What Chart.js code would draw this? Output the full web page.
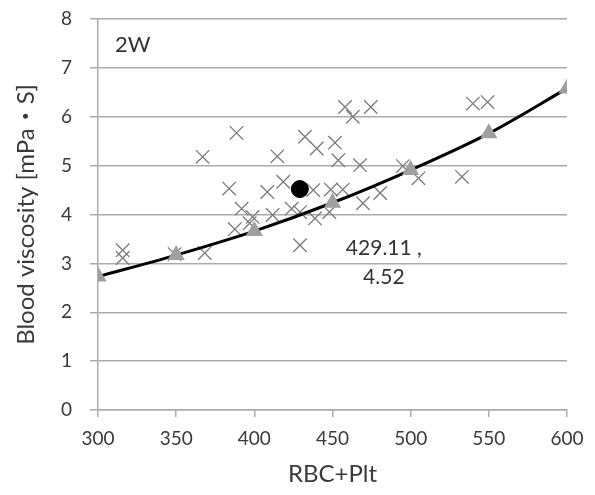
<!DOCTYPE html>
<html lang="en"><head>
<meta charset="utf-8">
<title>Blood viscosity 2W</title>
<style type="text/css">
body    { margin:0; background-color:#ffffff; }
#box    { width:595px; height:495px; }
</style>
<script src="https://cdn.jsdelivr.net/npm/chart.js@4"></script>
<script>

// measured samples (RBC+Plt, viscosity)
var sampleX=[315.8,315.8,349,368.3,387.5,397,388.6,366.9,432.4,439.9,414.7,383.9,408.3,418.5,437.7,391.9,398.9,411.7,423.9,429.2,429.2,438.8,
  458,463,474.5,539.8,549.2,451.6,453.7,467.6,495,505,532.8,448.9,456.6,480.5,469.5,448];
var sampleY=[3.27,3.11,3.19,3.21,3.70,3.82,5.67,5.18,5.59,5.35,5.19,4.53,4.46,4.67,4.50,4.12,3.95,3.99,4.12,4.05,3.37,3.92,
  6.20,6.00,6.20,6.27,6.30,5.47,5.11,5.01,4.99,4.74,4.77,4.51,4.51,4.44,4.23,4.05];
// fitted curve
var fitX=[300,350,400,450,500,550,600];
var fitY=[2.73,3.17,3.66,4.24,4.91,5.66,6.58];
// mean point
var meanX=[429.11];
var meanY=[4.52];
var xTicks=[300,350,400,450,500,550,600];

function pts(xs,ys) { var out=[]; for (var i=0;i<xs.length;i++) { out.push({x:xs[i],y:ys[i]}); } return out; }

var textPlugin={id:'texts',afterDatasetsDraw:function(chart) {
  var c=chart.ctx, xs=chart.scales.x, ys=chart.scales.y;
  c.save(); c.fillStyle='#333333'; c.textBaseline='middle';
  c.font='22px Lato'; c.textAlign='left'; c.fillText('2W',xs.left+17,ys.top+26);
  var px=xs.getPixelForValue(meanX[0]), py=ys.getPixelForValue(meanY[0]);
  c.font='21px Lato'; c.textAlign='center';
  c.fillText(meanX[0].toFixed(2)+' ,',px+84,py+59);
  c.fillText(meanY[0].toFixed(2),px+84,py+88);
  c.restore(); }};

function initChart() {
  var grid='#ababab', ink='#3a3a3a';
  var config={type:'scatter',data:{datasets:[{
    data:pts(meanX,meanY),pointStyle:'circle',pointRadius:8.5,backgroundColor:'#000000',borderColor:'#000000',order:0},{
    data:pts(fitX,fitY),showLine:true,borderColor:'#000000',borderWidth:3,
    cubicInterpolationMode:'monotone',pointStyle:'triangle',pointRadius:7,
    pointBackgroundColor:'#a0a0a0',pointBorderColor:'#a0a0a0',order:1},{
    data:pts(sampleX,sampleY),pointStyle:'crossRot',pointRadius:9.5,borderWidth:1.3,
    borderColor:'#7a7a7a',backgroundColor:'#7a7a7a',order:2}]},
  options:{animation:false,responsive:false,events:[],
    layout:{padding:{left:8,right:28,top:19,bottom:2}},
    plugins:{legend:{display:false},tooltip:{enabled:false}},
    scales:{
      x:{type:'linear',min:300,max:600,afterBuildTicks:function(s){ s.ticks=xTicks.map(function(v){return {value:v};}); },
        afterFit:function(s){ s.height=83; },
        grid:{drawOnChartArea:false,color:grid,lineWidth:1.5,tickLength:7},
        border:{color:grid,width:1.5},
        ticks:{color:ink,font:{family:'Lato',size:19},padding:10},
        title:{display:true,text:'RBC+Plt',color:ink,font:{family:'Lato',size:24},padding:{top:4}}},
      y:{min:0,max:8,afterFit:function(s){ s.width=90; s.paddingTop=0; },
        grid:{color:grid,lineWidth:1.5,tickLength:8},
        border:{color:grid,width:1.5},
        ticks:{stepSize:1,color:ink,font:{family:'Lato',size:19},padding:18},
        title:{display:true,text:'Blood viscosity [mPa・S]',color:ink,font:{family:'Lato, "Noto Sans CJK JP"',size:24},padding:{bottom:0}}}}},
  plugins:[textPlugin]};
  new Chart(document.getElementById('chart'),config); }

</script></head>
<body onload="initChart();">
<div id="box"><canvas id="chart" width="595" height="495"></canvas></div>
</body></html>
